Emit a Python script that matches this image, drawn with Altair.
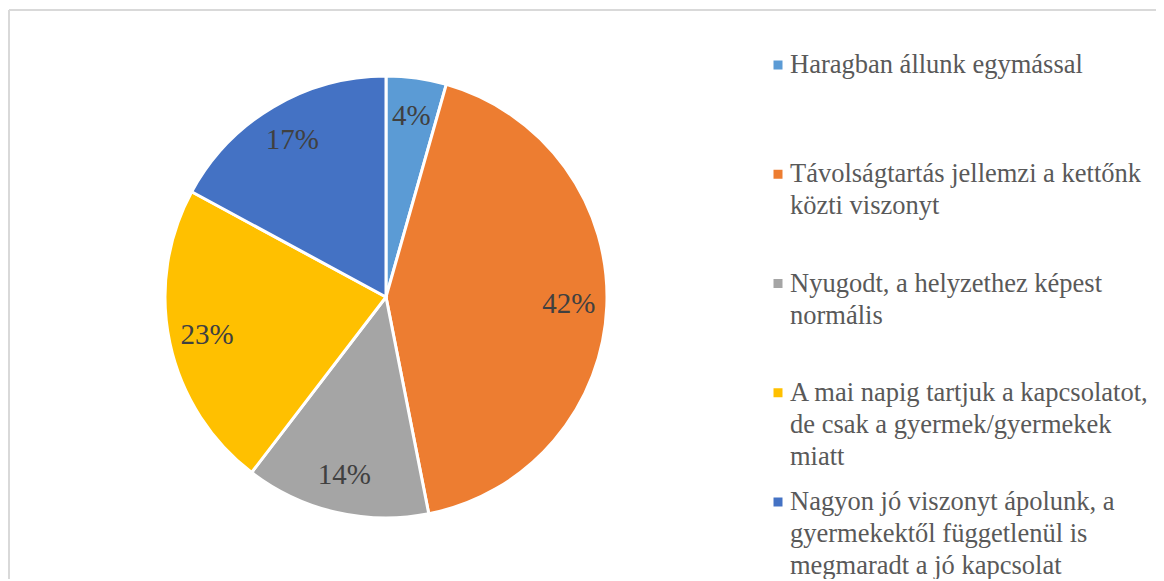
import altair as alt
import pandas as pd

categories = [
    "Haragban állunk egymással",
    "Távolságtartás jellemzi a kettőnk\nközti viszonyt",
    "Nyugodt, a helyzethez képest\nnormális",
    "A mai napig tartjuk a kapcsolatot,\nde csak a gyermek/gyermekek\nmiatt",
    "Nagyon jó viszonyt ápolunk, a\ngyermekektől függetlenül is\nmegmaradt a jó kapcsolat",
]
values = [4.4, 42.5, 13.5, 22.5, 17.1]
labels = ["4%", "42%", "14%", "23%", "17%"]
colors = ["#5B9BD5", "#ED7D31", "#A5A5A5", "#FFC000", "#4472C4"]

df = pd.DataFrame({
    "idx": list(range(len(categories))),
    "cat": categories,
    "value": values,
    "label": labels,
})

FONT = "Liberation Serif"
W, H = 1147, 569
CX, CY, R = 377, 287, 221

color = alt.Color("cat:N", scale=alt.Scale(domain=categories, range=colors), legend=None)

base = alt.Chart(df)

arcs = base.mark_arc(outerRadius=R, stroke="white", strokeWidth=3).encode(
    theta=alt.Theta("value:Q", stack=True),
    order=alt.Order("idx:Q"),
    color=color,
    x=alt.value(CX), y=alt.value(CY),
)

pct = base.mark_text(radius=183, font=FONT, fontSize=29, color="#404040").encode(
    theta=alt.Theta("value:Q", stack=True),
    order=alt.Order("idx:Q"),
    text="label:N",
    x=alt.value(CX), y=alt.value(CY),
)

yscale = alt.Y("idx:Q", scale=alt.Scale(domain=[0, 4], range=[55, 492], zero=False, nice=False), axis=None)

leg_sq = base.mark_square(size=81, opacity=1).encode(
    x=alt.value(769),
    y=yscale,
    color=color,
)

leg_txt = base.mark_text(
    align="left", baseline="alphabetic", dy=8, lineBreak="\n", lineHeight=32,
    font=FONT, fontSize=26.5, color="#595959",
).encode(
    x=alt.value(781),
    y=yscale,
    text="cat:N",
)

border_top = alt.Chart(pd.DataFrame({"a": [0]})).mark_rule(color="#D9D9D9", strokeWidth=2).encode(
    x=alt.value(0), x2=alt.value(W), y=alt.value(0)
)
border_left = alt.Chart(pd.DataFrame({"a": [0]})).mark_rule(color="#D9D9D9", strokeWidth=2).encode(
    x=alt.value(0), y=alt.value(0), y2=alt.value(H)
)

chart = alt.layer(border_top, border_left, arcs, pct, leg_sq, leg_txt).properties(
    width=W, height=H,
    padding={"left": 1, "top": 2, "right": 0, "bottom": 0},
    autosize=alt.AutoSizeParams(type="none"),
).configure_view(stroke=None)

chart.save("out.html", embed_options={"renderer": "svg", "actions": False})
